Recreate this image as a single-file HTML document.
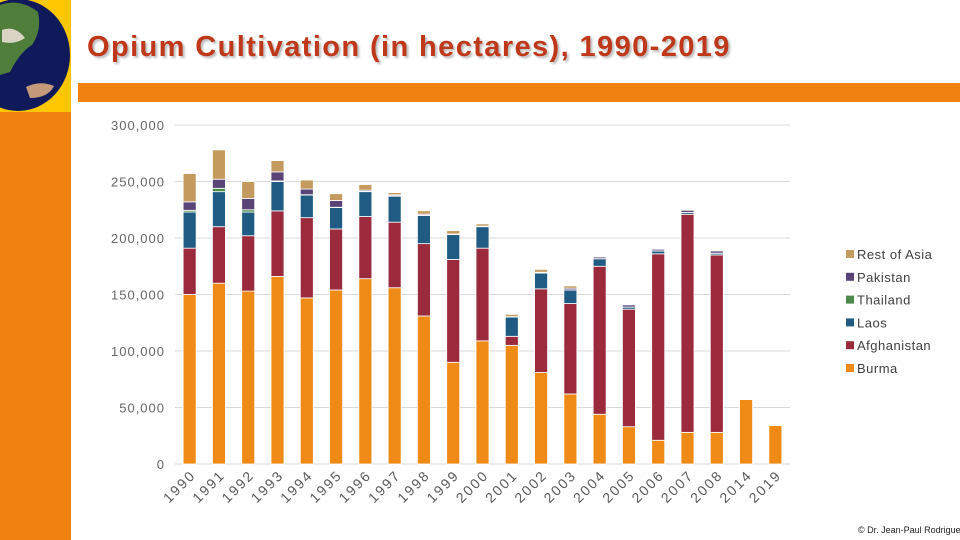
<!DOCTYPE html>
<html><head><meta charset="utf-8"><style>
body{margin:0;width:960px;height:540px;overflow:hidden;background:#fff;font-family:"Liberation Sans",sans-serif;position:relative}
</style></head><body>
<div style="position:absolute;left:0;top:0;width:71px;height:540px;background:#ef8210"></div>
<div style="position:absolute;left:0;top:0;width:71px;height:112px;background:#fcc600;overflow:hidden">
<svg width="71" height="112"><ellipse cx="18" cy="55" rx="52" ry="56" fill="#101a5a"/><path d="M0 5 Q20 -2 38 12 Q42 30 32 45 Q20 52 10 72 L0 75Z" fill="#4f7d3a"/><path d="M2 30 Q15 25 25 38 Q15 45 2 42Z" fill="#d9d4c3"/><path d="M26 87 Q40 80 54 86 Q48 98 30 98Z" fill="#c49a7a"/></svg></div>
<div style="position:absolute;left:87px;top:31px;font-size:29px;letter-spacing:1.4px;font-weight:bold;color:#c0381a;text-shadow:2px 2px 2px #bbb;white-space:nowrap">Opium Cultivation (in hectares), 1990-2019</div>
<div style="position:absolute;left:78px;top:83px;width:882px;height:19px;background:#ef8210"></div>
<div style="position:absolute;left:858px;top:525px;font-size:9px;color:#222;white-space:nowrap">© Dr. Jean-Paul Rodrigue</div>
<svg id="chart" width="960" height="540" style="position:absolute;left:0;top:0"></svg>
<script>
const categories=["1990","1991","1992","1993","1994","1995","1996","1997","1998","1999","2000","2001","2002","2003","2004","2005","2006","2007","2008","2014","2019"];
const burma=[150000,160000,153000,166000,147000,154000,164000,156000,131000,90000,109000,105000,81000,62000,44000,33000,21000,28000,28000,57000,34000];
const afghanistan=[41000,50000,49000,58000,71000,54000,55000,58000,64000,91000,82000,8000,74000,80000,131000,104000,165000,193000,157000,0,0];
const laos=[32000,31000,21000,26000,20000,19000,22000,23000,25000,22000,19000,17000,14000,12000,6600,1800,2500,1500,1500,0,0];
const thailand=[1500,3000,2000,500,300,200,300,300,200,200,200,200,100,100,100,100,100,100,100,0,0];
const pakistan=[7500,8000,10000,8000,5000,6000,1000,900,900,300,300,200,600,1500,1500,2000,1500,2000,2000,0,0];
const restOfAsia=[25000,26000,15000,10000,8000,6000,5000,2000,3000,3000,2000,2000,2500,2000,300,300,300,300,300,0,0];
const ticks=[0,50000,100000,150000,200000,250000,300000];
const tickLabels=["0","50,000","100,000","150,000","200,000","250,000","300,000"];
const seriesNames=["Burma","Afghanistan","Laos","Thailand","Pakistan","Rest of Asia"];
const colors=["#ef8a17","#9b2a3c","#1f5b82","#4c8a4c","#5a4477","#c49a5e"];
const series=[burma,afghanistan,laos,thailand,pakistan,restOfAsia];
const svg=document.getElementById('chart');const NS="http://www.w3.org/2000/svg";
const y0=464,y1=125,x0=175,x1=790;
const yS=v=>y0-(v/300000)*(y0-y1);
const step=(x1-x0)/categories.length;
const xS=i=>x0+step*(i+0.5);
function mk(t,a){const e=document.createElementNS(NS,t);for(const k in a)e.setAttribute(k,a[k]);svg.appendChild(e);return e;}
ticks.forEach((t,i)=>{
 const l=mk('line',{x1:x0,x2:x1,y1:yS(t),y2:yS(t),stroke:'#d9d9d9','stroke-width':1});
 
 
 const tx=mk('text',{x:165,y:yS(t)+5,'text-anchor':'end','font-size':13,fill:'#666','letter-spacing':'1','font-family':'Liberation Sans'});
 tx.textContent=tickLabels[i];
 
 
});
categories.forEach((c,i)=>{
 let cum=0;const bw=13;
 series.forEach((s,k)=>{
  const v=s[i];if(!v)return;
  const r=mk('rect',{x:xS(i)-bw/2,y:yS(cum+v),width:bw,height:yS(cum)-yS(cum+v),fill:colors[k],stroke:'#fff','stroke-width':0.8});
  
  
  cum+=v;
 });
 const tx=mk('text',{x:xS(i)+7,y:y0+12,'text-anchor':'end','font-size':14,'letter-spacing':'2','fill':'#595959','font-family':'Liberation Sans',transform:`rotate(-45 ${xS(i)+7} ${y0+12})`});
 tx.textContent=c;
 
 
});
[5,4,3,2,1,0].forEach((k,j)=>{
 const yy=255+j*22.8;
 const r=mk('rect',{x:846,y:yy-5,width:8,height:8,fill:colors[k]});
 
 
 const t=mk('text',{x:857,y:yy+4,'font-size':13,'letter-spacing':'0.5',fill:'#404040','font-family':'Liberation Sans'});
 t.textContent=seriesNames[k];
 
 
});
</script>
</body></html>
